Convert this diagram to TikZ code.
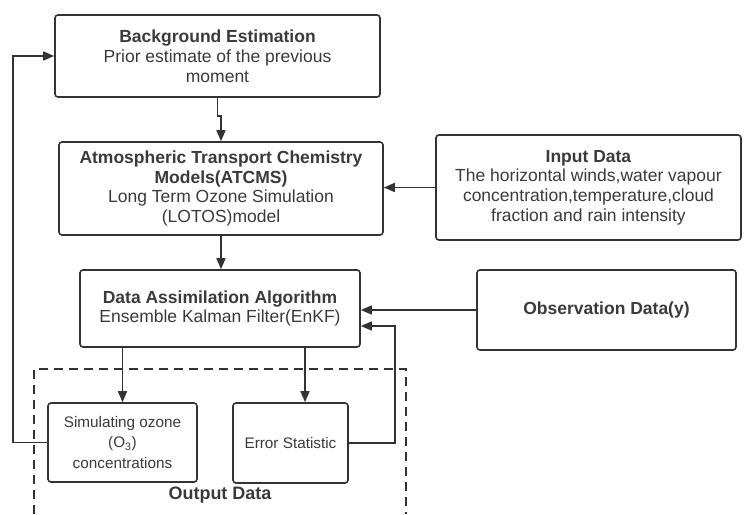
\documentclass[tikz,border=0pt]{standalone}
\usepackage{fontspec}
\setmainfont{Liberation Sans}
\usetikzlibrary{arrows.meta,calc}
\definecolor{ln}{HTML}{333333}
\definecolor{tx}{HTML}{3A3A3A}
\begin{document}
\begin{tikzpicture}[x=1pt,y=-1pt,
  box/.style={draw=ln,line width=1.6pt,rounded corners=3pt,align=center,text=tx,
    font=\fontsize{17.5}{19.8}\selectfont,inner sep=0pt},
  sbox/.style={box,font=\fontsize{15.3}{20.5}\selectfont},
  arr/.style={draw=ln,line width=1.6pt,-{Triangle[length=11pt,width=9pt]}},
  ln/.style={draw=ln,line width=1.6pt}]
\useasboundingbox (0,0) rectangle (744,514);
\node[box,minimum width=325pt,minimum height=82pt] (b1) at (217.5,56)
  {\textbf{Background Estimation}\\Prior estimate of the previous\\moment};
\node[box,minimum width=324pt,minimum height=93pt] (b2) at (221,188.5)
  {\textbf{Atmospheric Transport Chemistry}\\\textbf{Models(ATCMS)}\\Long Term Ozone Simulation\\(LOTOS)model};
\node[box,minimum width=305pt,minimum height=105pt] (inp) at (588.5,187.5)
  {\textbf{Input Data}\\The horizontal winds,water vapour\\concentration,temperature,cloud\\fraction and rain intensity};
\node[box,minimum width=259pt,minimum height=80pt] (obs) at (606.5,310)
  {\textbf{Observation Data(y)}};
\node[box,minimum width=280pt,minimum height=77pt] (b3) at (220,308.5)
  {\textbf{Data Assimilation Algorithm}\\Ensemble Kalman Filter(EnKF)};
\node[sbox,minimum width=149pt,minimum height=79pt] (sim) at (122.5,442.5)
  {Simulating ozone\\(O\textsubscript{3})\\concentrations};
\node[sbox,minimum width=115pt,minimum height=80pt] (err) at (290.5,443)
  {Error Statistic};
\draw[draw=ln,line width=1.6pt,dash pattern=on 9pt off 6pt] (34,514) -- (34,369) -- (406,369) -- (406,514);
\node[text=tx,font=\fontsize{18}{20}\selectfont\bfseries] (out) at (220,495) {Output Data};
% connectors
\coordinate (e1) at ($(b3.south)+(85,0)$);
\coordinate (e2) at ($(b3.east)+(0,17.5)$);
\draw[arr] (b1.south) -- ++(0,18) -| (b2.north);
\draw[arr] (b2.south) -- (b2.south |- b3.north);
\draw[arr] (inp.west) -- (inp.west -| b2.east);
\draw[arr] (obs.west) -- (obs.west -| b3.east);
\draw[arr] (b3.south -| sim.north) -- (sim.north);
\draw[arr] (e1) -- (e1 |- err.north);
\draw[arr] (err.east) -- ++(46,0) |- (e2);
\draw[arr] (sim.west) -- ++(-34,0) |- (b1.west);
\end{tikzpicture}
\end{document}
